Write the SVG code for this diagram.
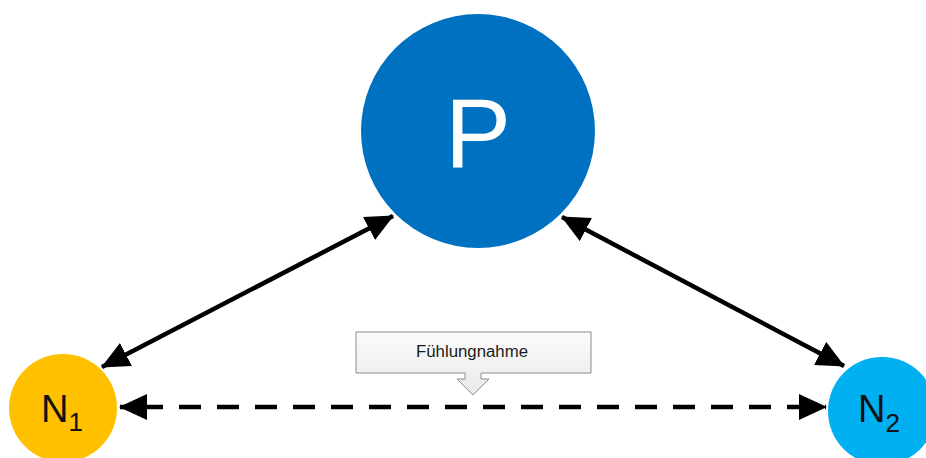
<svg xmlns="http://www.w3.org/2000/svg" width="926" height="458" viewBox="0 0 926 458">
  <style>
    .node-label { font-family: "Liberation Sans", Arial, sans-serif; }
    .link { stroke: #000; stroke-width: 4.5; fill: none; }
    .dashed { stroke-dasharray: 22 16; }
  </style>
  <defs>
    <marker id="head" viewBox="0 0 28 26" refX="27" refY="13" markerWidth="28" markerHeight="26" markerUnits="userSpaceOnUse" orient="auto-start-reverse">
      <path d="M0,0 L28,13 L0,26 Z" fill="#000"/>
    </marker>
    <linearGradient id="calloutFill" x1="0" y1="0" x2="0" y2="1">
      <stop offset="0" stop-color="#fbfbfb"/>
      <stop offset="1" stop-color="#e9e9e9"/>
    </linearGradient>
  </defs>

  <rect width="926" height="458" fill="#fff"/>

  <!-- connectors -->
  <g id="connectors">
    <line class="link" x1="102" y1="367" x2="393" y2="216" marker-start="url(#head)" marker-end="url(#head)"/>
    <line class="link" x1="562" y1="217" x2="844" y2="366" marker-start="url(#head)" marker-end="url(#head)"/>
    <line class="link dashed" x1="120" y1="407" x2="826" y2="407" stroke-dashoffset="-21" marker-start="url(#head)" marker-end="url(#head)"/>
  </g>

  <!-- callout label -->
  <g id="callout">
    <path d="M356,332 H591 V373 H481 V379 H489 L473,395 L457,379 H465 V373 H356 Z" fill="url(#calloutFill)" stroke="#8c8c8c" stroke-width="1"/>
    <text x="416" y="357" font-family="Liberation Sans, Arial, sans-serif" font-size="16" fill="#1a1a1a" textLength="112" lengthAdjust="spacingAndGlyphs">Fühlungnahme</text>
  </g>

  <!-- nodes -->
  <g id="node-P">
    <circle cx="478" cy="131" r="117" fill="#0070c0"/>
    <text class="node-label" x="478" y="167" font-size="99" fill="#fff" text-anchor="middle">P</text>
  </g>
  <g id="node-N1">
    <circle cx="63" cy="408" r="54" fill="#ffc000"/>
    <text class="node-label" x="41" y="422" font-size="38" fill="#111">N<tspan font-size="26" dy="9">1</tspan></text>
  </g>
  <g id="node-N2">
    <circle cx="882" cy="411" r="54" fill="#00b0f0"/>
    <text class="node-label" x="858" y="422" font-size="38" fill="#111">N<tspan font-size="26" dy="10">2</tspan></text>
  </g>
</svg>
